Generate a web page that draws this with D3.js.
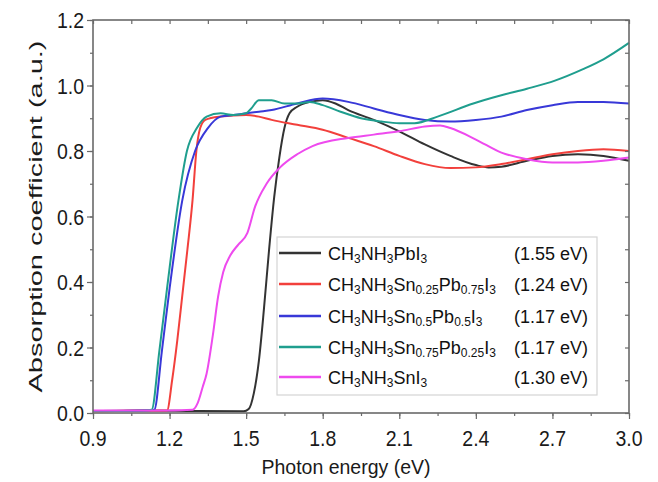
<!DOCTYPE html>
<html><head><meta charset="utf-8">
<script src="https://cdn.jsdelivr.net/npm/d3@7"></script>
<style>body{margin:0;background:#fff}svg{display:block}text{font-family:"Liberation Sans",Arial,sans-serif}</style>
</head><body><svg id="c" width="658" height="482"></svg>
<script>
const xTicks = [0.9,1.2,1.5,1.8,2.1,2.4,2.7,3.0];
const yTicks = [0,0.2,0.4,0.6,0.8,1.0,1.2];
const seriesNames = ["PbI3","Sn025","Sn05","Sn075","SnI3"];
const seriesColors = ["#333333","#f2403c","#3838d8","#1f9e8e","#ee4aee"];
const gapLabels = ["(1.55 eV)","(1.24 eV)","(1.17 eV)","(1.17 eV)","(1.30 eV)"];
const black = [[0.9,0.006],[1.1,0.008],[1.3,0.006],[1.49,0.005],[1.51,0.012],[1.53,0.06],[1.55,0.16],[1.57,0.32],[1.59,0.5],[1.61,0.66],[1.63,0.78],[1.65,0.87],[1.67,0.915],[1.7,0.935],[1.75,0.95],[1.8,0.955],[1.85,0.945],[1.9,0.925],[2.0,0.895],[2.1,0.86],[2.2,0.82],[2.3,0.785],[2.4,0.757],[2.45,0.75],[2.5,0.752],[2.6,0.77],[2.7,0.785],[2.8,0.79],[2.9,0.785],[3.0,0.77]];
const red = [[0.9,0.005],[1.1,0.008],[1.19,0.008],[1.21,0.1],[1.23,0.22],[1.25,0.36],[1.27,0.5],[1.29,0.65],[1.305,0.8],[1.32,0.87],[1.34,0.895],[1.4,0.905],[1.5,0.91],[1.55,0.905],[1.6,0.895],[1.7,0.88],[1.8,0.865],[1.9,0.84],[2.0,0.815],[2.1,0.785],[2.2,0.76],[2.3,0.748],[2.4,0.75],[2.5,0.76],[2.6,0.775],[2.7,0.79],[2.8,0.8],[2.9,0.805],[3.0,0.8]];
const blue = [[0.9,0.006],[1.1,0.008],[1.14,0.01],[1.17,0.19],[1.2,0.38],[1.25,0.65],[1.3,0.8],[1.35,0.87],[1.4,0.905],[1.45,0.91],[1.5,0.915],[1.55,0.92],[1.6,0.925],[1.7,0.945],[1.8,0.96],[1.9,0.95],[2.0,0.93],[2.1,0.91],[2.2,0.895],[2.3,0.89],[2.4,0.895],[2.5,0.905],[2.6,0.925],[2.7,0.94],[2.8,0.95],[2.9,0.95],[3.0,0.945]];
const teal = [[0.9,0.006],[1.1,0.008],[1.13,0.01],[1.16,0.19],[1.19,0.38],[1.235,0.65],[1.268,0.8],[1.307,0.87],[1.345,0.905],[1.4,0.915],[1.45,0.91],[1.5,0.915],[1.52,0.93],[1.55,0.955],[1.6,0.955],[1.65,0.945],[1.7,0.945],[1.75,0.95],[1.8,0.94],[1.87,0.92],[1.95,0.9],[2.03,0.89],[2.1,0.885],[2.16,0.885],[2.25,0.905],[2.39,0.945],[2.5,0.97],[2.6,0.99],[2.71,1.015],[2.82,1.05],[2.9,1.08],[3.0,1.13]];
const magenta = [[0.9,0.008],[1.2,0.008],[1.29,0.01],[1.31,0.03],[1.33,0.08],[1.345,0.12],[1.37,0.24],[1.39,0.355],[1.41,0.43],[1.437,0.48],[1.47,0.515],[1.505,0.55],[1.535,0.63],[1.58,0.7],[1.633,0.75],[1.7,0.79],[1.76,0.815],[1.9,0.84],[2.0,0.85],[2.1,0.86],[2.2,0.875],[2.26,0.878],[2.3,0.87],[2.4,0.835],[2.5,0.795],[2.6,0.775],[2.7,0.765],[2.8,0.765],[2.9,0.77],[3.0,0.78]];
const seriesData = [black,red,blue,teal,magenta];
const legendParts = [
 [["CH",0],["3",1],["NH",0],["3",1],["PbI",0],["3",1]],
 [["CH",0],["3",1],["NH",0],["3",1],["Sn",0],["0.25",1],["Pb",0],["0.75",1],["I",0],["3",1]],
 [["CH",0],["3",1],["NH",0],["3",1],["Sn",0],["0.5",1],["Pb",0],["0.5",1],["I",0],["3",1]],
 [["CH",0],["3",1],["NH",0],["3",1],["Sn",0],["0.75",1],["Pb",0],["0.25",1],["I",0],["3",1]],
 [["CH",0],["3",1],["NH",0],["3",1],["SnI",0],["3",1]]
];

const svg = d3.select("#c");
const L=93,R=629,T=20,B=413;
const x = d3.scaleLinear().domain([0.9,3.0]).range([L,R]);
const y = d3.scaleLinear().domain([0,1.2]).range([B,T]);
const axisColor="#6a6a6a";
const fmt = d3.format(".1f");

const line = d3.line().x(d=>x(d[0])).y(d=>y(d[1])).curve(d3.curveMonotoneX);
const g = svg.append("g");
seriesData.forEach((s,i)=>{
  g.append("path").datum(s).attr("d",line).attr("fill","none")
   .attr("stroke",seriesColors[i]).attr("stroke-width",2).attr("stroke-linejoin","round");
});

const minorX = d3.range(0,15).map(i=>0.9+0.15*i).filter(v=>v<=3.0001);
const minorY = d3.range(0,13).map(i=>0.1*i);
function styleAxis(sel){sel.select(".domain").remove();sel.selectAll("line").attr("stroke",axisColor).attr("stroke-width",1.2);}
svg.append("g").attr("transform",`translate(0,${B})`).call(d3.axisBottom(x).tickValues(minorX).tickSize(3).tickFormat("")).call(styleAxis);
svg.append("g").attr("transform",`translate(0,${B})`).call(d3.axisBottom(x).tickValues(xTicks).tickSize(6).tickFormat("")).call(styleAxis);
svg.append("g").attr("transform",`translate(0,${T})`).call(d3.axisBottom(x).tickValues(minorX).tickSize(4).tickFormat("")).call(styleAxis);
svg.append("g").attr("transform",`translate(${L},0)`).call(d3.axisLeft(y).tickValues(minorY).tickSize(3).tickFormat("")).call(styleAxis);
svg.append("g").attr("transform",`translate(${L},0)`).call(d3.axisLeft(y).tickValues(yTicks).tickSize(6).tickFormat("")).call(styleAxis);
svg.append("g").attr("transform",`translate(${R},0)`).call(d3.axisLeft(y).tickValues(minorY).tickSize(4).tickFormat("")).call(styleAxis);
svg.append("rect").attr("x",L).attr("y",T).attr("width",R-L).attr("height",B-T)
  .attr("fill","none").attr("stroke",axisColor).attr("stroke-width",1.6);

svg.append("g").selectAll("text").data(xTicks).join("text")
  .attr("transform",d=>`translate(${x(d)},${446}) scale(1,1.12)`)
  .attr("text-anchor","middle").attr("font-size",19.5).attr("fill","#1a1a1a").text(fmt);
svg.append("g").selectAll("text").data(yTicks).join("text")
  .attr("transform",d=>`translate(${L-9},${y(d)+8}) scale(1,1.12)`)
  .attr("text-anchor","end").attr("font-size",19.5).attr("fill","#1a1a1a").text(fmt);

svg.append("text").attr("transform","translate(346,474) scale(1,1.08)").attr("text-anchor","middle").attr("font-size",19.5).attr("fill","#1a1a1a").text("Photon energy (eV)");
svg.append("text").attr("transform",`translate(42,${(T+B)/2}) rotate(-90)`).attr("text-anchor","middle").attr("font-size",19)
  .attr("textLength",352).attr("lengthAdjust","spacingAndGlyphs").attr("fill","#1a1a1a").text("Absorption coefficient (a.u.)");

const lg = svg.append("g");
lg.append("rect").attr("x",277).attr("y",237).attr("width",320).attr("height",158).attr("fill","#fff").attr("stroke","#d4d4d4").attr("stroke-width",1.2);
const rowY = [253,284,316,347,377];
legendParts.forEach((parts,i)=>{
  lg.append("line").attr("x1",279).attr("x2",321).attr("y1",rowY[i]).attr("y2",rowY[i]).attr("stroke",seriesColors[i]).attr("stroke-width",2.5);
  const t = lg.append("text").attr("x",328).attr("y",rowY[i]+6.5).attr("font-size",18).attr("fill","#111");
  parts.forEach(([s,sub],j)=>{
    const prevSub=j>0?parts[j-1][1]:0;
    const ts=t.append("tspan").text(s);
    if(sub) ts.attr("font-size",12);
    ts.attr("dy", sub&&!prevSub?3.5:(!sub&&prevSub?-3.5:0));
  });
  lg.append("text").attr("x",588).attr("y",rowY[i]+6.5).attr("text-anchor","end").attr("font-size",18).attr("fill","#111").text(gapLabels[i]);
});
</script></body></html>
